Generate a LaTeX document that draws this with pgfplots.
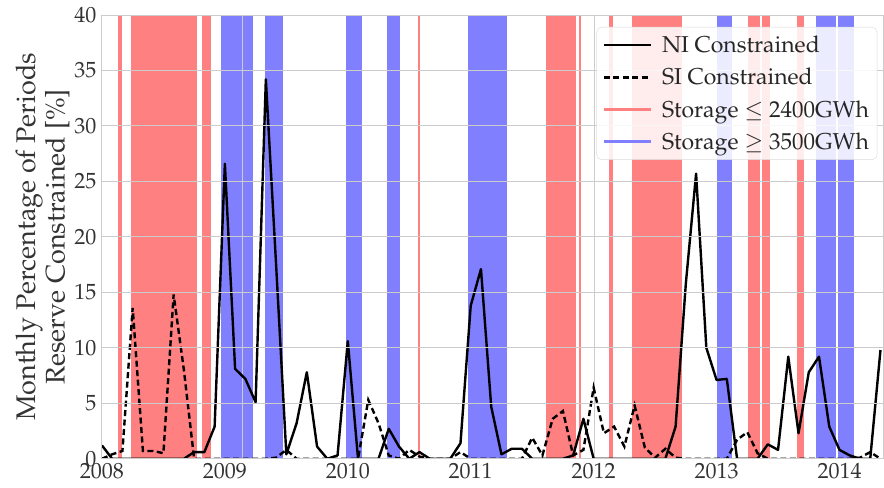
\documentclass[border=0pt]{standalone}
\usepackage[T1]{fontenc}
\usepackage{mathpazo}
\usepackage{pgfplots}
\pgfplotsset{compat=1.18}

\definecolor{spanred}{HTML}{FF8080}
\definecolor{spanblue}{HTML}{8080FF}
\definecolor{gridgrey}{HTML}{CCCCCC}
\newcommand{\bigf}{\fontsize{22}{26}\selectfont}
\newcommand{\legf}{\fontsize{23}{27}\selectfont}
\newcommand{\labf}{\fontsize{27}{29.5}\selectfont}
\newcommand{\rspan}[2]{\addplot[draw=none, fill=spanred, forget plot] coordinates {(#1,0) (#2,0) (#2,40) (#1,40)} -- cycle;}
\newcommand{\bspan}[2]{\addplot[draw=none, fill=spanblue, forget plot] coordinates {(#1,0) (#2,0) (#2,40) (#1,40)} -- cycle;}

\pgfplotstableread{
m ni si
0 1.2 0
1 0 0.4
2 0 0.7
3 0 13.6
4 0 0.7
5 0 0.7
6 0 0.5
7 0 14.8
8 0 8.0
9 0.6 0
10 0.6 0
11 2.9 0
12 26.6 0
13 8.1 0
14 7.2 0
15 5.1 0
16 34.2 0
17 17.5 0.1
18 0.4 0.8
19 3.2 0
20 7.8 0
21 1.1 0
22 0 0
23 0.3 0
24 10.6 0
25 0 0
26 0 5.3
27 0 3.2
28 2.7 0.3
29 1.1 0
30 0 0.8
31 0.6 0.2
32 0 0
33 0 0
34 0 0
35 1.4 0.6
36 13.8 0
37 17.1 0
38 4.7 0
39 0.4 0
40 0.9 0
41 0.9 0
42 0 1.9
43 0 0.3
44 0 3.6
45 0 4.3
46 0.3 0.3
47 3.6 0.8
48 0 6.4
49 0 2.3
50 0 2.9
51 0 1.1
52 0 4.8
53 0 1.0
54 0 0.1
55 0 0.9
56 2.9 0.1
57 15.8 0
58 25.7 0
59 10.0 0
60 7.1 0
61 7.2 0
62 0 1.7
63 0 2.4
64 0 0.5
65 1.3 0
66 0.8 0
67 9.2 0
68 2.3 0
69 7.8 0
70 9.2 0
71 2.9 0
72 0.8 0
73 0.3 0
74 0 0.1
75 0 0.6
76 9.8 0
}\datatable

\begin{document}
\begin{tikzpicture}
\begin{axis}[
  scale only axis,
  width=782pt, height=444pt,
  xmin=0, xmax=76.3, ymin=0, ymax=40,
  axis on top,
  xtick={0,12,24,36,48,60,72},
  xticklabels={2008,2009,2010,2011,2012,2013,2014},
  ytick={0,5,...,40},
  major tick length=0pt,
  ymajorgrids,
  grid style={gridgrey, line width=0.9pt},
  axis line style={gridgrey, line width=0.9pt},
  tick label style={font=\bigf, text=black!80},
  xticklabel style={yshift=-1pt},
  yticklabel style={xshift=-2pt},
  ylabel={Monthly Percentage of Periods\\Reserve Constrained [\%]},
  ylabel style={font=\labf, align=center, text=black!80, yshift=-2pt},
  legend cell align=left,
  legend style={at={(0.992,0.973)}, anchor=north east, font=\legf,
    draw=gridgrey!70, rounded corners=5pt, fill=white, fill opacity=0.85, text opacity=1,
    inner xsep=6pt, inner ysep=7pt, row sep=10pt, text=black!85},
  legend image code/.code={\draw[#1] (0pt,0pt) -- (47pt,0pt); \path (55pt,0pt);},
]
\rspan{1.59}{1.92}
\rspan{2.80}{9.24}
\rspan{9.73}{10.60}
\bspan{11.58}{14.76}
\bspan{15.87}{17.63}
\bspan{23.87}{25.43}
\bspan{27.83}{29.07}
\rspan{30.86}{31.09}
\bspan{35.74}{39.54}
\rspan{43.39}{46.24}
\rspan{46.57}{46.80}
\rspan{49.49}{49.88}
\rspan{51.76}{56.61}
\bspan{60.07}{61.53}
\rspan{63.05}{64.20}
\rspan{64.42}{65.17}
\rspan{67.85}{68.49}
\bspan{69.73}{71.64}
\bspan{71.89}{73.38}
\addplot[gridgrey, line width=0.8pt, forget plot] coordinates {(13.73,0) (13.73,40)};
\addplot[gridgrey, line width=0.8pt, forget plot] coordinates {(48.1,0) (48.1,40)};
\addplot[black, line width=2.4pt, line join=round] table[x=m, y=ni] {\datatable};
\addlegendentry{NI Constrained}
\addplot[black, line width=2.4pt, dash pattern=on 6pt off 3.5pt] table[x=m, y=si] {\datatable};
\addlegendentry{SI Constrained}
\addlegendimage{spanred, line width=2.2pt}
\addlegendentry{Storage $\leq$ 2400GWh}
\addlegendimage{spanblue, line width=2.2pt}
\addlegendentry{Storage $\geq$ 3500GWh}
\end{axis}
\path (current axis.south west) ++(-102pt,-29pt);
\path (current axis.north east) ++(0pt,15pt);
\end{tikzpicture}
\end{document}
